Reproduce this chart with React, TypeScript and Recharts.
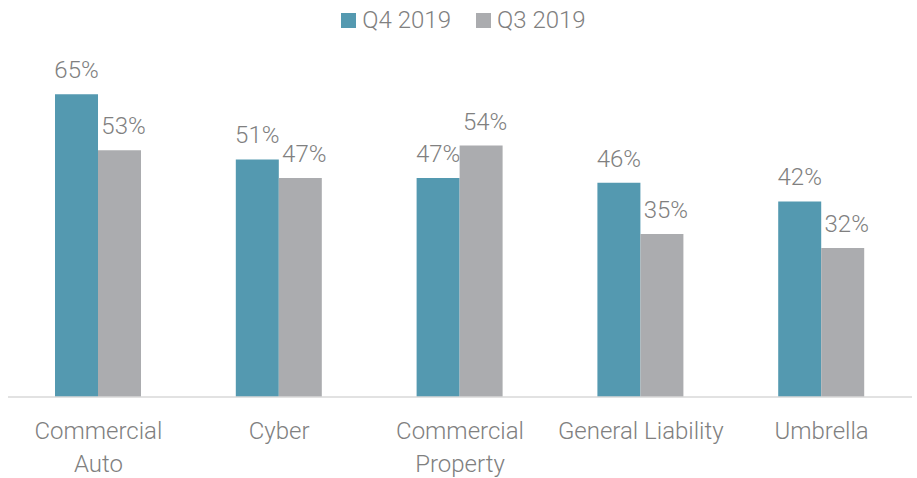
import React from "react";
import { BarChart, Bar, XAxis, YAxis, LabelList } from "recharts";

const categories = ["Commercial Auto", "Cyber", "Commercial Property", "General Liability", "Umbrella"];
const q4_2019 = [65, 51, 47, 46, 42];
const q3_2019 = [53, 47, 54, 35, 32];
const tickLines: string[][] = [["Commercial", "Auto"], ["Cyber"], ["Commercial", "Property"], ["General Liability"], ["Umbrella"]];
const seriesNames = ["Q4 2019", "Q3 2019"];

const data = categories.map((c, i) => ({ name: c, q4: q4_2019[i], q3: q3_2019[i] }));

const TEAL = "#5499B0";
const GRAY = "#ABACAF";
const TEXT = "#808080";
const FONT = "Roboto";
const FS = 24;

const Tick = (props: any) => {
  const { x, y, payload, index } = props;
  const lines = tickLines[index] || [payload.value];
  return (
    <text x={x} y={y} textAnchor="middle" fill={TEXT} fontFamily={FONT} fontWeight={300} fontSize={FS}>
      {lines.map((l, i) => (
        <tspan key={i} x={x} dy={i === 0 ? 34 : 33}>{l}</tspan>
      ))}
    </text>
  );
};

export default function App() {
  return (
    <div style={{ position: "absolute", left: 0, top: 0, width: 917, height: 478, background: "#fff" }}>
      <div style={{ position: "absolute", top: 6, left: 5, width: 917, display: "flex", justifyContent: "center", alignItems: "center", fontFamily: FONT, fontWeight: 300, fontSize: FS, color: TEXT, lineHeight: "28px" }}>
        {[TEAL, GRAY].map((c, i) => (
          <div key={i} style={{ display: "flex", alignItems: "center", marginLeft: i ? 25 : 0 }}>
            <div style={{ width: 15, height: 15, background: c, marginRight: 6 }} />
            <span>{seriesNames[i]}</span>
          </div>
        ))}
      </div>
      <BarChart width={917} height={478} data={data} margin={{ top: 71, right: 5, left: 8, bottom: 0 }} barCategoryGap="26%" barGap={0}>
        <XAxis dataKey="name" tick={<Tick />} tickLine={false} axisLine={{ stroke: "#D9D9D9", strokeWidth: 1.5 }} height={81} interval={0} />
        <YAxis hide domain={[0, 70]} />
        <Bar dataKey="q4" name={seriesNames[0]} fill={TEAL} isAnimationActive={false}>
          <LabelList dataKey="q4" position="top" offset={16} formatter={(v: any) => `${v}%`} fill={TEXT} fontFamily={FONT} fontWeight={300} fontSize={FS} />
        </Bar>
        <Bar dataKey="q3" name={seriesNames[1]} fill={GRAY} isAnimationActive={false}>
          <LabelList dataKey="q3" position="top" offset={16} dx={4} formatter={(v: any) => `${v}%`} fill={TEXT} fontFamily={FONT} fontWeight={300} fontSize={FS} />
        </Bar>
      </BarChart>
    </div>
  );
}
